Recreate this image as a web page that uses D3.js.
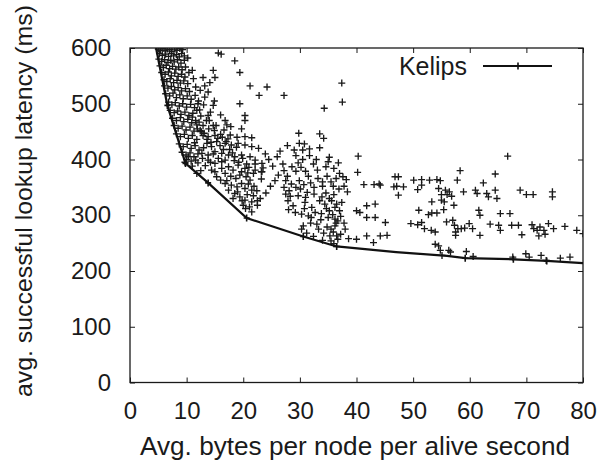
<!DOCTYPE html>
<html><head><meta charset="utf-8">
<script src="https://cdn.jsdelivr.net/npm/d3@7"></script>
<style>body{margin:0;background:#fff}svg{display:block}text{font-family:"Liberation Sans",Arial,Helvetica,sans-serif;fill:#1a1a1a}</style>
</head><body><svg id="c" width="603" height="465"></svg>
<script>
const xTicks = [0,10,20,30,40,50,60,70,80];
const yTicks = [0,100,200,300,400,500,600];
const xTitle = "Avg. bytes per node per alive second";
const yTitle = "avg. successful lookup latency (ms)";
const seriesName = "Kelips";
// Frontier line (Kelips)
const hullX = [4.6,6.6,9.8,13.8,20.6,30.6,36.5,47,56,59.2,67.7,73.6,80];
const hullY = [600,497,393,358,295,262,244,234,227,223,221,218,214];
const hullMarkX = [6.6,9.8,13.8,20.6,30.6,36.5,59.2,67.7,73.6];
// Scatter of individual configurations
const scatterX = [
5.0,5.4,5.8,6.2,6.6,7.0,7.4,7.9,8.3,8.8,9.3,5.2,5.7,6.3,6.8,7.3,7.7,8.2,8.7,9.1,9.6,5.1,5.6,6.1,6.7,7.2,7.8,8.4,9.0,9.6,10.2,
5.3,5.9,6.4,7.0,7.5,8.1,8.6,9.2,9.8,5.6,6.2,6.8,7.3,7.9,8.5,9.1,9.7,10.4,6.0,6.5,7.1,7.7,8.3,8.9,9.5,10.2,11.0,
6.1,6.7,7.3,7.9,8.5,9.1,9.8,10.5,6.3,7.0,7.6,8.2,8.8,9.4,10.1,10.8,6.8,7.4,8.0,8.7,9.3,10.0,10.7,11.4,
7.1,7.8,8.4,9.0,9.7,10.4,11.1,7.5,8.2,8.9,9.5,10.2,10.9,11.6,7.8,8.5,9.2,9.9,10.6,11.3,8.2,8.9,9.6,10.3,11.0,11.8,
8.7,9.4,10.1,10.8,11.5,9.2,9.9,10.6,11.3,12.0,10.0,10.8,11.6,
15.6,16.1,18.5,19.4,21.2,14.7,12.9,15.0,14.1,13.2,12.4,13.8,14.7,19.4,13.2,13.8,16.8,20.3,20.3,12.9,14.7,17.1,17.8,19.7,12.9,13.8,15.0,16.0,17.7,20.3,21.5,
11.5,12.0,11.8,12.5,12.2,11.9,12.6,13.5,14.2,13.9,11.6,11.2,12.1,
13.6,14.4,15.3,16.8,17.9,19.1,20.3,21.5,22.7,12.7,13.8,15.0,16.2,17.4,18.5,19.7,21.2,22.1,23.3,13.8,15.0,16.2,16.8,17.4,19.1,20.3,22.1,23.3,14.4,15.0,16.8,18.2,19.7,20.5,21.2,16.8,17.9,19.7,20.3,21.5,17.4,18.5,19.4,20.3,21.5,20.0,21.1,21.5,23.0,22.5,10.3,9.7,11.0,12.0,12.5,11.8,
11.8,12.4,13.1,13.6,14.3,14.9,15.5,15.9,16.5,16.3,17.0,17.6,18.1,18.8,18.4,19.2,19.9,20.6,21.0,21.8,20.8,19.4,18.7,17.8,16.2,15.6,14.7,14.2,13.3,12.8,12.2,11.4,13.0,15.3,16.0,17.1,18.9,19.0,20.7,21.8,20.9,21.9,22.4,20.4,19.8,18.2,17.3,18.9,16.6,15.2,14.0,12.3,13.0,14.9,16.0,11.0,
24.2,22.8,27.2,37.4,37.5,34.3,29.8,33.5,34.2,27.8,29.9,30.8,33.5,26.5,29.0,30.5,31.7,26.0,29.3,30.5,31.7,32.9,35.2,35.0,40.3,40.2,22.1,23.5,23.2,23.2,27.2,27.8,29.3,31.0,31.5,31.9,34.0,35.5,36.4,37.0,37.6,38.2,41.3,43.1,44.0,27.2,28.1,29.3,30.1,31.3,32.5,34.0,34.6,
35.6,36.5,37.4,36.2,35.2,37.0,27.9,28.8,30.9,32.1,33.5,34.4,40.0,40.6,41.8,41.8,43.3,43.3,45.1,30.3,31.5,32.7,35.0,36.2,36.7,36.2,30.6,33.0,33.3,30.3,35.3,36.5,36.7,35.5,38.0,40.0,41.8,43.0,44.2,35.5,22.5,24.0,
27.0,28.6,29.7,30.2,32.4,33.1,34.6,36.0,36.8,27.5,28.5,29.9,30.7,33.2,34.8,35.9,36.9,37.8,38.4,36.0,35.2,33.9,32.5,31.0,29.7,28.3,27.5,28.0,29.2,30.8,32.0,33.8,34.7,35.8,37.2,36.4,34.8,33.7,31.9,31.2,32.4,34.2,35.9,37.2,37.8,38.6,34.0,36.0,
24.5,25.2,23.9,25.6,24.8,26.2,
66.7,58.3,64.5,57.8,62.4,46.8,47.4,50.1,51.5,52.9,54.2,54.8,44.2,46.6,47.1,48.3,51.5,50.8,54.5,55.7,55.0,56.0,56.8,56.4,58.9,61.0,61.3,63.0,63.3,64.5,64.8,68.9,70.0,71.2,74.6,74.6,47.4,53.3,55.0,55.5,57.2,51.0,52.7,53.3,54.2,55.4,61.6,61.8,65.4,67.1,
49.6,50.8,51.5,52.0,53.2,53.9,55.9,57.0,57.3,57.9,58.5,59.1,59.9,60.5,57.5,57.5,61.8,63.6,65.1,65.4,67.4,68.6,69.2,71.0,71.3,71.9,73.1,72.4,72.2,73.3,73.9,74.8,76.8,78.9,80.0,45.4,
53.9,54.5,54.8,55.1,56.3,56.6,59.4,60.6,67.6,69.9,70.5,72.6,73.5,76.0,77.7
];
const scatterY = [
598,596,599,595,598,597,594,598,596,599,597,590,587,589,585,590,586,588,584,590,586,580,576,579,574,578,575,579,573,578,582,
568,565,569,563,567,562,566,561,566,556,553,557,550,555,549,553,548,556,543,540,545,538,542,537,541,536,560,
532,528,531,525,529,523,527,522,518,514,519,511,516,509,514,508,503,498,502,496,500,494,499,493,
488,484,487,481,485,479,483,474,470,475,468,472,466,470,461,456,460,453,458,451,446,441,445,438,443,436,
428,423,427,420,425,413,408,412,405,410,400,397,399,
591,589,577,556,532,560,547,547,538,532,524,521,497,500,512,479,470,479,470,461,461,462,459,455,443,441,443,445,444,441,439,
515,500,488,478,467,455,450,470,485,455,530,545,505,
429,423,432,429,426,429,426,423,420,411,408,414,411,408,405,408,405,399,393,399,393,396,399,387,390,384,381,378,381,378,375,381,378,369,363,357,354,357,348,345,345,339,333,327,324,318,315,306,330,318,405,395,388,394,380,375,
462,452,447,436,431,452,438,425,418,440,432,418,412,422,398,395,402,392,386,375,376,372,366,370,384,402,410,395,389,402,417,430,421,369,363,362,351,342,337,335,356,352,344,312,326,330,437,440,453,461,470,489,498,505,480,476,
530,515,515,537,503,492,447,446,438,425,429,428,421,415,417,417,419,405,407,400,407,400,404,396,406,377,392,385,378,365,380,370,379,379,370,358,360,360,366,375,369,364,355,355,356,350,344,350,347,341,350,352,340,
326,320,323,314,308,308,326,317,323,314,326,320,308,305,317,296,320,296,287,302,299,305,296,293,290,281,281,284,275,275,263,263,257,254,275,257,263,251,263,275,326,340,
392,387,394,386,392,381,387,384,394,362,356,362,355,366,370,352,347,352,342,337,330,333,338,332,335,334,338,310,305,312,296,303,312,301,298,286,279,292,286,268,262,268,270,266,286,258,255,249,
400,388,410,362,352,372,
406,380,374,363,358,369,369,363,364,363,364,362,354,351,352,351,354,346,348,345,337,337,334,342,342,345,339,339,333,345,330,345,337,337,342,333,336,324,327,324,318,309,301,304,304,310,309,300,303,303,
285,283,287,276,273,270,288,291,282,276,276,277,285,276,270,264,264,284,282,273,282,282,265,283,276,273,273,279,263,266,285,276,280,273,267,264,
248,245,237,228,237,234,235,226,225,231,225,228,219,223,225
];

const svg = d3.select("#c");
const x = d3.scaleLinear().domain([0,80]).range([130,583]);
const y = d3.scaleLinear().domain([0,600]).range([382.5,48]);
const ink = "#1a1a1a";

svg.append("defs").append("clipPath").attr("id","clip")
  .append("rect").attr("x",130).attr("y",48).attr("width",453).attr("height",334.5);

const tl = 5;
const styleText = g => g.selectAll("text").attr("font-size",24).attr("fill",ink)
  .style("font-family","Liberation Sans, Arial, sans-serif");
svg.append("g").attr("transform","translate(0,382.5)")
  .call(d3.axisBottom(x).tickValues(xTicks).tickSize(-tl).tickPadding(tl+14))
  .call(g=>{g.select(".domain").remove();g.selectAll("line").attr("stroke",ink);styleText(g);});
svg.append("g").attr("transform","translate(0,48)")
  .call(d3.axisTop(x).tickValues(xTicks).tickSize(-tl).tickFormat(""))
  .call(g=>{g.select(".domain").remove();g.selectAll("line").attr("stroke",ink);});
svg.append("g").attr("transform","translate(130,0)")
  .call(d3.axisLeft(y).tickValues(yTicks).tickSize(-tl).tickPadding(tl+14))
  .call(g=>{g.select(".domain").remove();g.selectAll("line").attr("stroke",ink);styleText(g);});
svg.append("g").attr("transform","translate(583,0)")
  .call(d3.axisRight(y).tickValues(yTicks).tickSize(-tl).tickFormat(""))
  .call(g=>{g.select(".domain").remove();g.selectAll("line").attr("stroke",ink);});

svg.append("rect").attr("x",130).attr("y",48).attr("width",453).attr("height",334.5)
  .attr("fill","none").attr("stroke",ink).attr("stroke-width",1.3);

const plus = "M-3.5,0H3.5M0,-3.5V3.5";
const pts = scatterX.map((v,i)=>[v,scatterY[i]]);
svg.append("g").attr("clip-path","url(#clip)").selectAll("path").data(pts).join("path")
  .attr("d",plus).attr("transform",d=>`translate(${x(d[0])},${y(d[1])})`)
  .attr("stroke","#1a1a1a").attr("stroke-width",1.35).attr("fill","none");

const hull = hullX.map((v,i)=>[v,hullY[i]]);
svg.append("path").datum(hull).attr("clip-path","url(#clip)")
  .attr("d",d3.line().x(d=>x(d[0])).y(d=>y(d[1])))
  .attr("fill","none").attr("stroke","#111").attr("stroke-width",2.2);
const hm = hull.filter(d=>hullMarkX.includes(d[0]));
svg.append("g").selectAll("path").data(hm).join("path")
  .attr("d","M-3,0H3M0,-3.5V3.5").attr("transform",d=>`translate(${x(d[0])},${y(d[1])})`)
  .attr("stroke","#111").attr("stroke-width",1.6);

svg.append("text").attr("x",467).attr("y",75).attr("text-anchor","end")
  .attr("font-size",25).text(seriesName);
svg.append("line").attr("x1",483).attr("x2",552).attr("y1",66).attr("y2",66)
  .attr("stroke","#111").attr("stroke-width",2.2);
svg.append("path").attr("d","M-3,0H3M0,-3.5V3.5").attr("transform","translate(518,66)")
  .attr("stroke","#111").attr("stroke-width",1.6);

svg.append("text").attr("x",355).attr("y",455).attr("text-anchor","middle")
  .attr("font-size",25).attr("textLength",430).attr("lengthAdjust","spacingAndGlyphs").text(xTitle);
svg.append("text").attr("transform","translate(32,201) rotate(-90)").attr("text-anchor","middle")
  .attr("font-size",24.5).attr("textLength",392).attr("lengthAdjust","spacingAndGlyphs").text(yTitle);
</script></body></html>
